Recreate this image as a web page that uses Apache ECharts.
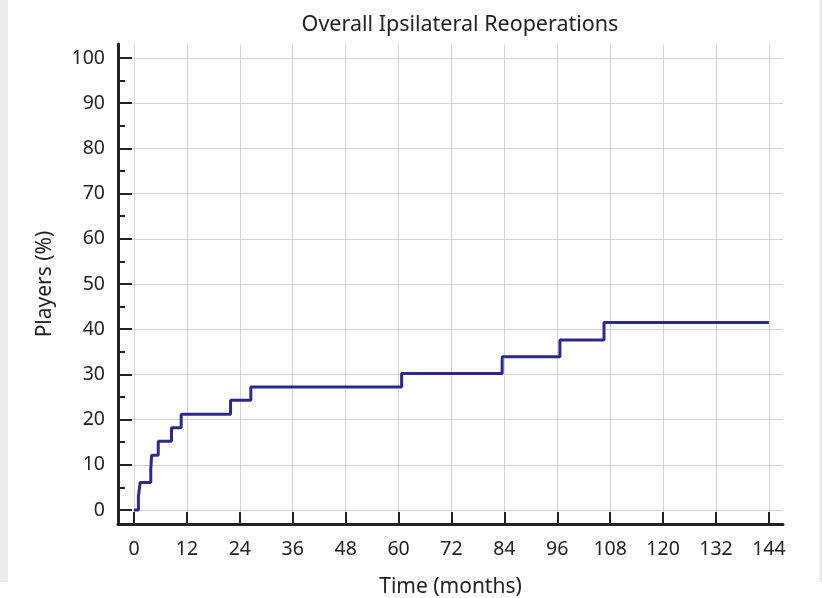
<!DOCTYPE html>
<html>
<head>
<meta charset="utf-8">
<script src="https://cdn.jsdelivr.net/npm/echarts@6/dist/echarts.min.js"></script>
<style>html,body{margin:0;padding:0;background:#fff}#c{width:822px;height:598px}</style>
</head>
<body>
<div id="c"></div>
<script>
const months = [0, 1.0, 1.4, 3.8, 4.0, 5.5, 8.5, 10.7, 21.9, 26.5, 60.7, 83.5, 96.6, 106.6, 144];
const players = [0, 3.0, 6.1, 9.1, 12.1, 15.2, 18.2, 21.2, 24.3, 27.2, 30.2, 33.9, 37.6, 41.5, 41.5];
const xTicks = [0, 12, 24, 36, 48, 60, 72, 84, 96, 108, 120, 132, 144];
const yTicks = [0, 10, 20, 30, 40, 50, 60, 70, 80, 90, 100];
const yMinorTicks = [5, 15, 25, 35, 45, 55, 65, 75, 85, 95];

const FONT = '"Noto Sans", "Open Sans", sans-serif';
const chart = echarts.init(document.getElementById('c'), null, {renderer: 'canvas'});
chart.setOption({
  animation: false,
  backgroundColor: '#ffffff',
  graphic: [
    {type: 'rect', shape: {x: 0, y: 0, width: 8, height: 582}, style: {fill: '#ebebeb'}, silent: true},
    {type: 'rect', shape: {x: 819, y: 0, width: 3, height: 582}, style: {fill: '#ebebeb'}, silent: true}
  ],
  title: {
    text: 'Overall Ipsilateral Reoperations',
    left: 455, top: 9, textAlign: 'center',
    textStyle: {fontFamily: FONT, fontSize: 21.5, fontWeight: 'normal', color: '#222'}
  },
  grid: {left: 118, right: 39, top: 44, bottom: 74, containLabel: false, outerBoundsMode: 'none'},
  xAxis: {
    type: 'value', min: -3.63, max: 147.2,
    name: 'Time (months)', nameLocation: 'middle', nameGap: 53,
    nameTextStyle: {fontFamily: FONT, fontSize: 21, color: '#222'},
    axisLine: {show: true, onZero: false, lineStyle: {color: '#222', width: 3}},
    axisTick: {show: true, inside: true, length: 12, customValues: xTicks, lineStyle: {color: '#222', width: 2}},
    axisLabel: {customValues: xTicks, margin: 15, fontFamily: FONT, fontSize: 19.5, color: '#222'},
    splitLine: {show: true, lineStyle: {color: '#d4d4d4', width: 1}}
  },
  yAxis: [{
    type: 'value', min: -3.1, max: 103.1,
    name: 'Players (%)', nameLocation: 'middle', nameGap: 62,
    nameTextStyle: {fontFamily: FONT, fontSize: 21, color: '#222'},
    axisLine: {show: true, onZero: false, lineStyle: {color: '#222', width: 3}},
    axisTick: {show: true, inside: true, length: 14, customValues: yTicks, lineStyle: {color: '#222', width: 2}},
    axisLabel: {customValues: yTicks, margin: 13, fontFamily: FONT, fontSize: 19.5, color: '#222'},
    splitLine: {show: true, lineStyle: {color: '#d4d4d4', width: 1}}
  }, {
    type: 'value', min: -3.1, max: 103.1, position: 'left', offset: 0,
    axisLine: {show: false, onZero: false},
    axisTick: {show: true, inside: true, length: 7, customValues: yMinorTicks, lineStyle: {color: '#222', width: 2}},
    axisLabel: {show: false},
    splitLine: {show: false}
  }],
  series: [{
    type: 'line', step: 'end', showSymbol: false, symbol: 'none',
    data: months.map((m, i) => [m, players[i]]),
    lineStyle: {color: '#2c2a88', width: 3},
    z: 5
  }]
});
</script>
</body>
</html>
